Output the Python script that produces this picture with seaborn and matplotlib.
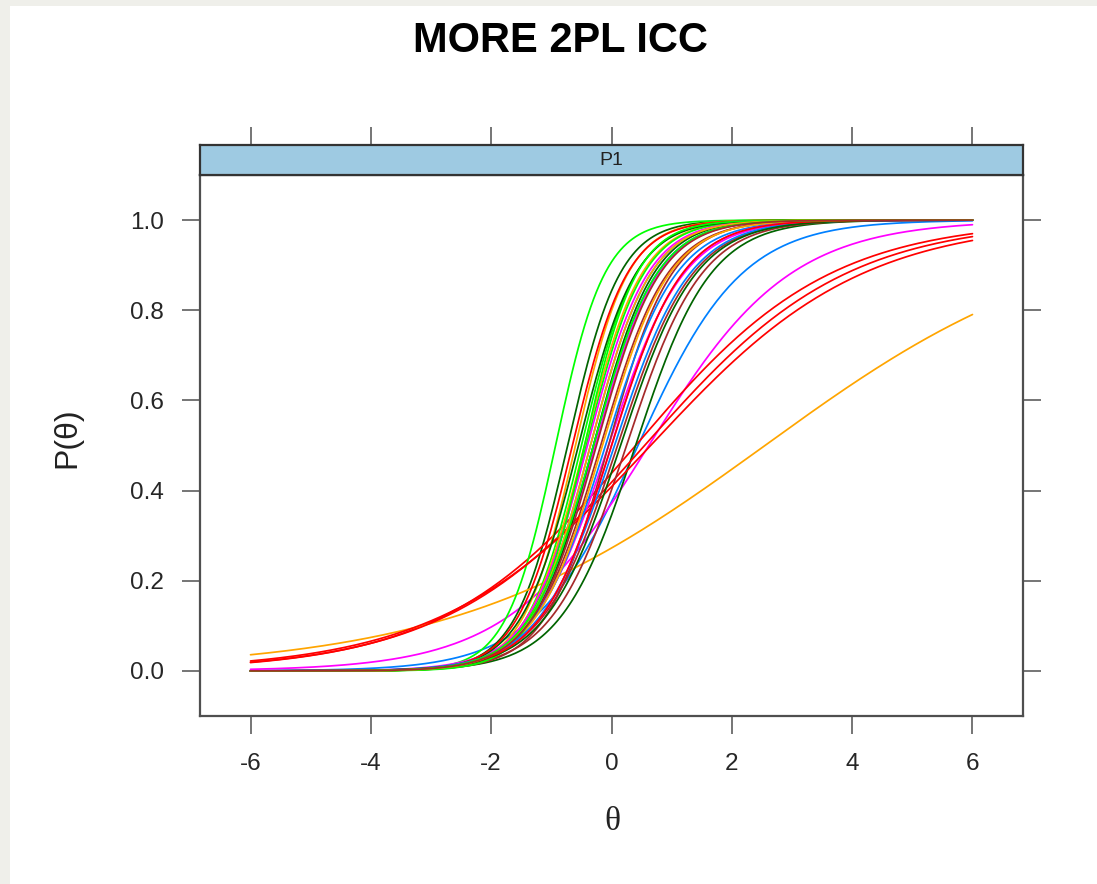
import numpy as np
import pandas as pd
import matplotlib
matplotlib.use("Agg")
import matplotlib.pyplot as plt
import seaborn as sns

# ---- data: 2PL item parameters (discrimination a, difficulty b) ----
items = [f"Item.{i+1}" for i in range(35)]
a_params = [1.16, 0.85, 2.30, 0.62, 0.385, 2.45, 1.80,
            2.00, 1.90, 1.60, 0.60, 2.30, 2.20, 1.60,
            1.90, 1.60, 2.00, 0.57, 2.10, 2.10, 1.90,
            1.70, 2.00, 2.10, 2.20, 1.80, 2.30, 1.60,
            1.60, 1.70, 1.60, 1.70, 2.00, 1.90, 1.90]
b_params = [0.44, 0.62, -0.73, 0.40, 2.55, -0.93, -0.18,
            -0.35, -0.27, 0.40, 0.55, -0.60, -0.50, 0.25,
            -0.30, -0.05, -0.30, 0.65, -0.45, -0.42, -0.05,
            -0.10, -0.40, -0.55, -0.65, -0.15, -0.45, 0.10,
            0.05, 0.00, 0.15, 0.00, -0.35, -0.30, -0.25]
theta_min, theta_max = -6, 6
x_ticks = [-6, -4, -2, 0, 2, 4, 6]
y_ticks = [0.0, 0.2, 0.4, 0.6, 0.8, 1.0]
title = "MORE 2PL ICC"
strip_label = "P1"

# lattice default superpose colours
lattice_cols = ["#0080ff", "#ff00ff", "#006400", "#ff0000", "#ffa500", "#00ff00", "#a52a2a"]

theta = np.linspace(theta_min, theta_max, 241)
rows = []
for it, a, b in zip(items, a_params, b_params):
    p = 1.0 / (1.0 + np.exp(-a * (theta - b)))
    rows.append(pd.DataFrame({"theta": theta, "P": p, "item": it}))
df = pd.concat(rows, ignore_index=True)
palette = {it: lattice_cols[i % 7] for i, it in enumerate(items)}

sns.set_theme(style="white")
plt.rcParams["font.family"] = ["Liberation Sans", "DejaVu Sans"]

W, H = 1097, 884
fig = plt.figure(figsize=(W / 100, H / 100), dpi=100, facecolor="#efefea")
# white page area
fig.patches.append(plt.Rectangle((10 / W, 0), 1 - 10 / W, 1 - 6 / H, transform=fig.transFigure,
                                 facecolor="white", edgecolor="none", zorder=-10))

def fx(px):
    return px / W

def fy(py):
    return 1 - py / H

L, R, T, B = 200, 1023, 175, 716
ax = fig.add_axes([fx(L), fy(B), fx(R) - fx(L), fy(T) - fy(B)])
ax.set_zorder(2)
ax.set_facecolor("white")
sns.lineplot(data=df, x="theta", y="P", hue="item", palette=palette, legend=False,
             linewidth=1.25, ax=ax, estimator=None, sort=False)
ax.set_xlim(-6.84, 6.84)
ax.set_ylim(-0.1, 1.1)
ax.set_xlabel("")
ax.set_ylabel("")
edge = "#4f4f4f"
for s in ax.spines.values():
    s.set_color(edge)
    s.set_linewidth(1.6)
ax.set_xticks(x_ticks)
ax.set_xticklabels([str(t) for t in x_ticks])
ax.set_yticks(y_ticks)
ax.set_yticklabels([f"{t:.1f}" for t in y_ticks])
ax.tick_params(axis="both", direction="out", length=13, width=1.1, color=edge,
               labelsize=17.5, labelcolor="#262626")
ax.tick_params(axis="y", left=True, right=True, labelleft=True, labelright=False, pad=13)
ax.tick_params(axis="x", bottom=True, top=False, pad=14)

# strip
S_top = 145
sax = fig.add_axes([fx(L), fy(T), fx(R) - fx(L), fy(S_top) - fy(T)], sharex=ax)
sax.set_zorder(2)
sax.set_facecolor("#9ecae2")
for s in sax.spines.values():
    s.set_color("#333333")
    s.set_linewidth(1.6)
sax.set_yticks([])
sax.tick_params(axis="x", bottom=False, top=True, labelbottom=False, labeltop=False,
                direction="out", length=13, width=1.1, color=edge)
sax.text(0.5, 0.47, strip_label, transform=sax.transAxes, ha="center", va="center",
         fontsize=14, color="#222222")

fig.text(fx(560), fy(41), title, ha="center", va="center", fontsize=30, fontweight="bold",
         color="black")
fig.text(fx(612), fy(822), "θ", ha="center", va="center", fontsize=24,
         family=["Liberation Serif", "DejaVu Serif"], color="#222222")
fig.text(fx(67), fy(438), "P(θ)", ha="center", va="center", rotation=90, fontsize=23,
         color="#222222")

fig.savefig("out.png", dpi=100, facecolor=fig.get_facecolor())
